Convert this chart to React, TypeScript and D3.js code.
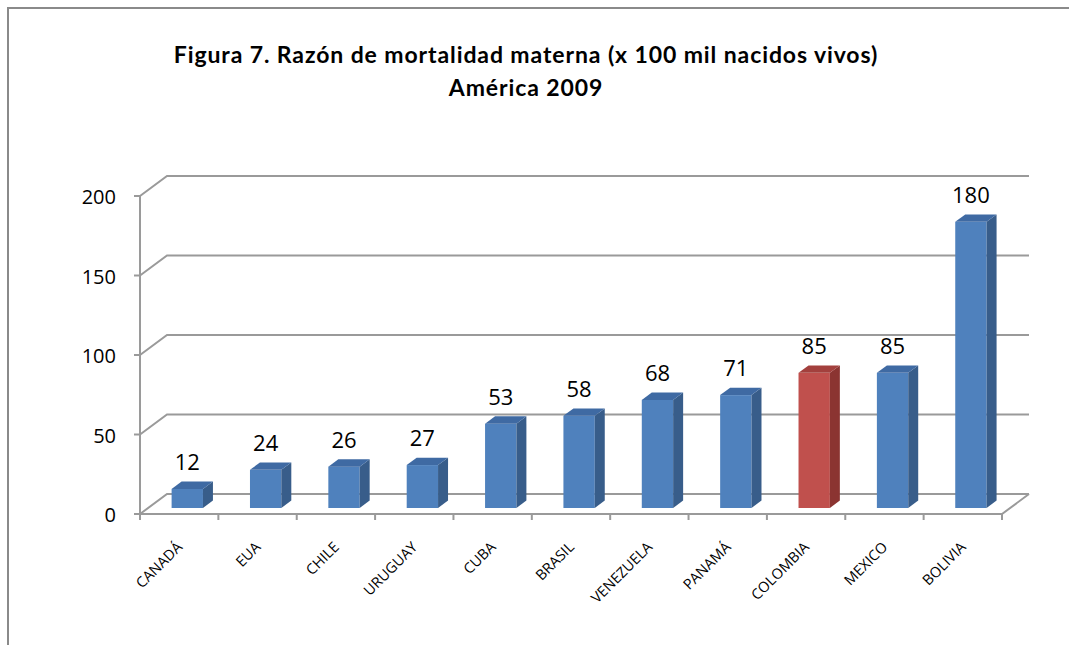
import React from "react";
import * as d3 from "d3";

const countries = ["CANADÁ", "EUA", "CHILE", "URUGUAY", "CUBA", "BRASIL", "VENEZUELA", "PANAMÁ", "COLOMBIA", "MEXICO", "BOLIVIA"];
const values = [12, 24, 26, 27, 53, 58, 68, 71, 85, 85, 180];
const highlighted = ["COLOMBIA"];
const yTicks = [0, 50, 100, 150, 200];
const titleLines = ["Figura 7. Razón de mortalidad materna (x 100 mil nacidos vivos)", "América 2009"];

const W = 1069;
const H = 645;
const left = 140;
const right = 1002;
const floorY = 514;
const topY = 196;
const DX = 27;
const DY = -20;
const barFront = 0.3;
const barDepth = 0.37;

const font = "'Open Sans', 'Liberation Sans', sans-serif";

export default function App() {
  const x = d3.scaleBand<string>().domain(countries).range([left, right]).padding(0);
  const y = d3.scaleLinear().domain([0, 200]).range([floorY, topY]);
  const step = x.step();
  const bw = step * 0.4;
  const grid = "#9a9a9a";

  const pts = (p: [number, number][]) => p.map((d) => d.join(",")).join(" ");

  return (
    <svg width={W} height={H} style={{ position: "absolute", left: 0, top: 0, background: "#fff" }}>
      {/* frame */}
      <line x1={7} y1={8} x2={W} y2={8} stroke="#8a8a8a" strokeWidth={2} />
      <line x1={8} y1={8} x2={8} y2={H} stroke="#8a8a8a" strokeWidth={2} />

      {/* title */}
      {titleLines.map((t, i) => (
        <text key={i} x={526} y={63 + i * 33} textAnchor="middle" fontFamily="Lato, 'Open Sans', sans-serif" fontWeight="bold" fontSize={23} letterSpacing={0.9} fill="#000">
          {t}
        </text>
      ))}

      {/* gridlines on back wall + side wall */}
      {yTicks.map((v) => (
        <g key={v}>
          <polyline
            points={pts([
              [left, y(v)],
              [left + DX, y(v) + DY],
              [right + DX, y(v) + DY],
            ])}
            fill="none"
            stroke={grid}
            strokeWidth={2}
          />
          <line x1={left - 6} y1={y(v)} x2={left} y2={y(v)} stroke={grid} strokeWidth={2} />
          <text x={116} y={y(v) + 8} textAnchor="end" fontFamily={font} fontSize={20} fill="#000">
            {v}
          </text>
        </g>
      ))}

      {/* floor */}
      <polyline
        points={pts([
          [left, floorY],
          [right, floorY],
          [right + DX, floorY + DY],
        ])}
        fill="none"
        stroke={grid}
        strokeWidth={2}
      />
      {/* y axis line */}
      <line x1={left} y1={y(200)} x2={left} y2={floorY} stroke={grid} strokeWidth={2} />

      {/* x ticks */}
      {countries.map((c) => (
        <line key={c} x1={(x(c) as number) + step} y1={floorY} x2={(x(c) as number) + step} y2={floorY + 6} stroke={grid} strokeWidth={2} />
      ))}
      <line x1={left} y1={floorY} x2={left} y2={floorY + 6} stroke={grid} strokeWidth={2} />

      {/* bars */}
      {countries.map((c, i) => {
        const v = values[i];
        const red = highlighted.includes(c);
        const front = red ? "#C0504D" : "#4F81BD";
        const side = red ? "#8B3431" : "#385D8A";
        const top = red ? "#A3403D" : "#3F6AA3";
        const cx = (x(c) as number) + step / 2 + DX * barFront;
        const ox = DY * barFront;
        const x0 = cx - bw / 2;
        const x1 = cx + bw / 2;
        const yb = floorY + ox;
        const yt = y(v) + ox;
        const ddx = DX * barDepth;
        const ddy = DY * barDepth;
        return (
          <g key={c}>
            <rect x={x0} y={yt} width={bw} height={yb - yt} fill={front} />
            <polygon points={pts([[x1, yt], [x1 + ddx, yt + ddy], [x1 + ddx, yb + ddy], [x1, yb]])} fill={side} />
            <polygon points={pts([[x0, yt], [x0 + ddx, yt + ddy], [x1 + ddx, yt + ddy], [x1, yt]])} fill={top} />
            <text x={cx} y={yt - 19} textAnchor="middle" fontFamily={font} fontSize={22} fill="#000">
              {v}
            </text>
          </g>
        );
      })}

      {/* x labels */}
      {countries.map((c) => {
        const px = (x(c) as number) + step / 2 + 4;
        const py = 548;
        return (
          <text key={c} x={px} y={py} textAnchor="end" transform={`rotate(-45 ${px} ${py})`} fontFamily={font} fontSize={14.5} fill="#000">
            {c}
          </text>
        );
      })}
    </svg>
  );
}
